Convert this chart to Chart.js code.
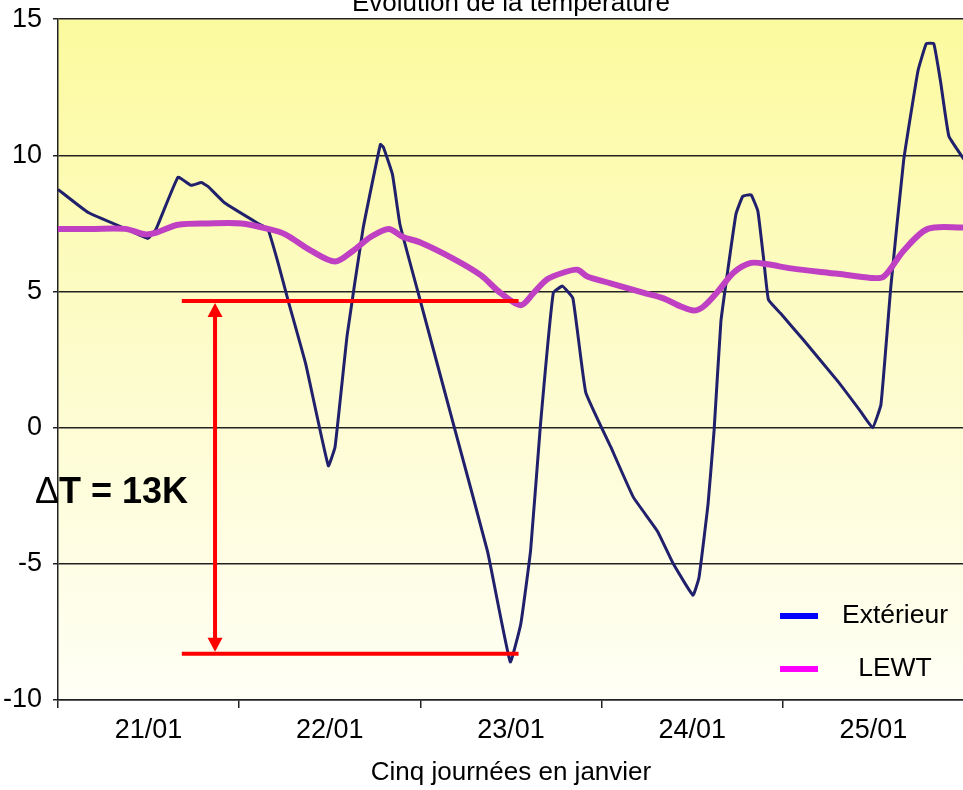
<!DOCTYPE html>
<html lang="fr">
<head>
<meta charset="utf-8">
<title>Evolution de la température</title>
<script src="https://cdn.jsdelivr.net/npm/chart.js@4.4.1/dist/chart.umd.min.js"></script>
<style>
  html, body { margin: 0; padding: 0; background: #fff; }
  #wrap { position: relative; width: 963px; height: 790px; overflow: hidden; }
  #chart { position: absolute; left: 0; top: -12px; }
</style>
</head>
<body>
<div id="wrap"><canvas id="chart" width="970" height="802"></canvas></div>
<script>
// axe x en heures depuis le 21/01 0h
const dayLabels = ['21/01', '22/01', '23/01', '24/01', '25/01'];
const tickHours = [0, 12, 24, 36, 48, 60, 72, 84, 96, 108, 120];

const extHours = [0, 4.0, 9.0, 11.9, 13.0, 15.9, 17.6, 19.0, 19.9, 22.1, 26.5, 27.8, 29.2, 30.5, 32.8,
  35.8, 36.7, 38.3, 40.4, 42.7, 43.1, 44.3, 45.3, 48.0, 52.4, 56.9, 59.9, 61.3, 62.6, 63.9, 65.6,
  66.8, 68.2, 69.9, 73.2, 76.2, 79.4, 81.5, 84.1, 84.9, 86.1, 86.9, 87.8, 88.7, 89.8, 90.7, 91.8,
  92.7, 93.5, 94.1, 95.7, 98.8, 103.3, 106.3, 107.9, 109.0, 110.3, 112.0, 113.9, 115.0, 116.0,
  116.9, 118.0, 120];
const extTemps = [8.75, 7.9, 7.3, 6.95, 7.3, 9.2, 8.9, 9.0, 8.85, 8.25, 7.5, 7.3, 6.0, 4.65, 2.35,
  -1.4, -0.7, 3.4, 7.3, 10.4, 10.3, 9.3, 7.45, 4.65, 0.1, -4.55, -8.6, -7.2, -4.5, 0.1, 4.95,
  5.2, 4.75, 1.3, -0.7, -2.55, -3.8, -5.0, -6.15, -5.5, -2.8, -0.1, 3.9, 5.75, 7.85, 8.5, 8.55,
  7.95, 6.1, 4.7, 4.2, 3.2, 1.7, 0.6, 0.0, 0.85, 5.15, 9.8, 13.1, 14.1, 14.1,
  12.7, 10.7, 9.85];

const lewtHours = [0, 4.4, 8.9, 11.5, 12.9, 15.9, 19.9, 24.3, 27.8, 30.1, 33.5, 36.7, 39.1, 41.4,
  43.8, 45.7, 48.0, 52.4, 56.0, 58.6, 61.3, 63.0, 64.8, 67.0, 68.8, 70.1, 73.2, 77.6, 80.2, 82.5,
  84.2, 85.5, 87.4, 89.5, 91.8, 94.0, 97.1, 103.3, 107.7, 109.4, 112.0, 115.2, 120];
const lewtTemps = [7.3, 7.3, 7.3, 7.1, 7.15, 7.45, 7.5, 7.5, 7.3, 7.1, 6.5, 6.1, 6.5, 7.0,
  7.3, 7.0, 6.8, 6.2, 5.6, 4.95, 4.5, 4.95, 5.45, 5.7, 5.8, 5.55, 5.3, 4.95, 4.75, 4.45,
  4.3, 4.45, 5.0, 5.7, 6.05, 6.0, 5.85, 5.65, 5.5, 5.55, 6.5, 7.3, 7.35];

// annotation de l'écart
const deltaTemps = [4.65, -8.3];
const deltaSpanHours = [16.4, 61.0];
const deltaArrowHour = 20.8;
const deltaLabelTemp = -2.4;

const FONT = '"Liberation Sans", Arial, sans-serif';
Chart.defaults.font.family = FONT;
Chart.defaults.color = '#000';

const toPoints = (hs, ts) => hs.map((h, i) => ({ x: h, y: ts[i] }));

const bgPlugin = {
  id: 'bg',
  beforeDraw(chart) {
    const { ctx, chartArea: a } = chart;
    ctx.save();
    ctx.fillStyle = '#fff';
    ctx.fillRect(0, 0, chart.width, chart.height);
    const g = ctx.createLinearGradient(0, a.top, 0, a.bottom);
    g.addColorStop(0, '#fcfa9e');
    g.addColorStop(0.55, '#fdfcd0');
    g.addColorStop(1, '#fffff6');
    ctx.fillStyle = g;
    ctx.fillRect(a.left, a.top, a.right - a.left, a.bottom - a.top);
    ctx.restore();
  }
};

const deltaPlugin = {
  id: 'delta',
  afterDatasetsDraw(chart) {
    const { ctx, scales: { x, y } } = chart;
    const x0 = x.getPixelForValue(deltaSpanHours[0]);
    const x1 = x.getPixelForValue(deltaSpanHours[1]);
    const xa = x.getPixelForValue(deltaArrowHour);
    const yt = y.getPixelForValue(deltaTemps[0]);
    const yb = y.getPixelForValue(deltaTemps[1]);
    ctx.save();
    ctx.strokeStyle = '#ff0000';
    ctx.fillStyle = '#ff0000';
    ctx.lineWidth = 4;
    ctx.beginPath();
    ctx.moveTo(x0, yt); ctx.lineTo(x1, yt);
    ctx.moveTo(x0, yb); ctx.lineTo(x1, yb);
    ctx.stroke();
    ctx.beginPath();
    ctx.moveTo(xa, yt + 12); ctx.lineTo(xa, yb - 12);
    ctx.stroke();
    ctx.beginPath();
    ctx.moveTo(xa, yt + 2); ctx.lineTo(xa - 7.5, yt + 16); ctx.lineTo(xa + 7.5, yt + 16); ctx.closePath();
    ctx.moveTo(xa, yb - 2); ctx.lineTo(xa - 7.5, yb - 16); ctx.lineTo(xa + 7.5, yb - 16); ctx.closePath();
    ctx.fill();

    const ty = y.getPixelForValue(deltaLabelTemp);
    const lx = chart.chartArea.left - 23;
    ctx.fillStyle = '#000';
    ctx.textBaseline = 'middle';
    ctx.font = '36px ' + FONT;
    ctx.fillText('Δ', lx, ty);
    const w = ctx.measureText('Δ').width;
    ctx.font = 'bold 36px ' + FONT;
    ctx.fillText('T = 13K', lx + w, ty);
    ctx.restore();
  }
};

const cornerLegend = {
  id: 'cornerLegend',
  afterDraw(chart) {
    const { ctx, chartArea: a } = chart;
    ctx.save();
    ctx.font = '26.5px ' + FONT;
    ctx.textAlign = 'center';
    ctx.textBaseline = 'middle';
    chart.data.datasets.forEach((ds, i) => {
      const yy = a.bottom - 84 + i * 53;
      ctx.fillStyle = ds.legendColor;
      ctx.fillRect(a.left + 722, yy - 3, 38, 6);
      ctx.fillStyle = '#000';
      ctx.fillText(ds.label, a.left + 837, yy);
    });
    ctx.restore();
  }
};

new Chart(document.getElementById('chart'), {
  type: 'line',
  data: {
    datasets: [
      {
        label: 'Extérieur',
        data: toPoints(extHours, extTemps),
        borderColor: '#20206c',
        borderWidth: 3,
        pointRadius: 0,
        tension: 0.1,
        order: 1,
        legendColor: '#0000ff'
      },
      {
        label: 'LEWT',
        data: toPoints(lewtHours, lewtTemps),
        borderColor: '#bf40c2',
        borderWidth: 6,
        pointRadius: 0,
        tension: 0.3,
        order: 0,
        legendColor: '#ff00ff'
      }
    ]
  },
  options: {
    responsive: false,
    animation: false,
    layout: { padding: 0 },
    plugins: {
      legend: { display: false },
      tooltip: { enabled: false },
      title: {
        display: true,
        fullSize: false,
        text: 'Evolution de la température',
        color: '#000',
        font: { size: 26, weight: 'normal' },
        padding: { top: 0, bottom: 0 }
      }
    },
    scales: {
      x: {
        type: 'linear',
        min: 0,
        max: 120,
        afterBuildTicks: s => { s.ticks = tickHours.map(v => ({ value: v })); },
        afterFit: s => { s.height = 90; },
        grid: {
          drawOnChartArea: false,
          tickLength: 8,
          lineWidth: 1.5,
          color: c => (c.tick && c.tick.value % 24 === 0) ? '#222' : 'rgba(0,0,0,0)'
        },
        border: { color: '#222', width: 1.5 },
        ticks: {
          autoSkip: false,
          maxRotation: 0,
          padding: 6,
          font: { size: 27 },
          callback: v => v % 24 === 12 ? dayLabels[(v - 12) / 24] : ''
        },
        title: {
          display: true,
          text: 'Cinq journées en janvier',
          font: { size: 26 },
          padding: { top: 0, bottom: 2 }
        }
      },
      y: {
        min: -10,
        max: 15,
        afterFit: s => { s.width = 58; },
        ticks: { stepSize: 5, padding: 11, font: { size: 27 } },
        grid: { color: '#222', lineWidth: 1.5, tickLength: 5 },
        border: { color: '#222', width: 1.5 }
      }
    }
  },
  plugins: [bgPlugin, deltaPlugin, cornerLegend]
});
</script>
</body>
</html>
